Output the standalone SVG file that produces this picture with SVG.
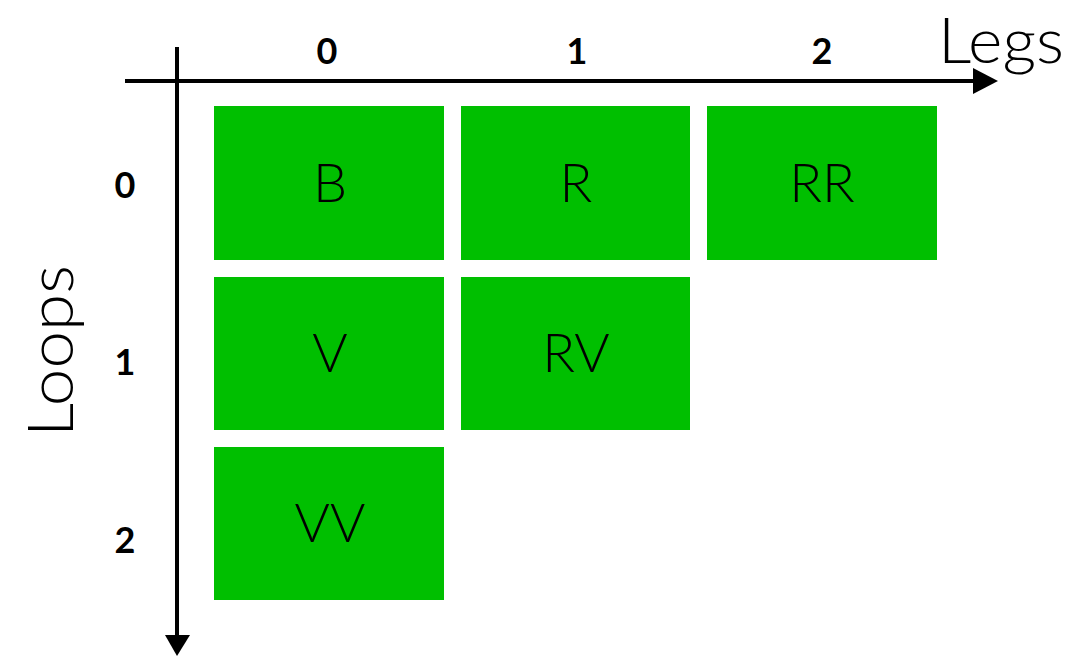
<svg xmlns="http://www.w3.org/2000/svg" width="1073" height="657" viewBox="0 0 1073 657">
<style>
.box{fill:#00bf00}
.lbl{font-family:Lato,"DejaVu Sans",sans-serif;font-weight:300;font-size:54px;fill:#000;text-anchor:middle}
.idx{font-family:Lato,"DejaVu Sans",sans-serif;font-weight:700;font-size:36px;fill:#000;text-anchor:middle}
.ax{font-family:Lato,"DejaVu Sans",sans-serif;font-weight:300;font-size:64px;fill:#000}
.axis{stroke:#000;stroke-width:4;fill:none}
</style>
<rect width="1073" height="657" fill="#fff"/>
<g id="axes">
<line class="axis" x1="125" y1="81" x2="976" y2="81"/>
<polygon points="973,68 998,81 973,94" fill="#000"/>
<line class="axis" x1="177" y1="47" x2="177" y2="638"/>
<polygon points="165,635 177,656 190,635" fill="#000"/>
<text class="ax" x="1001" y="63" text-anchor="middle" textLength="126" lengthAdjust="spacingAndGlyphs">Legs</text>
<text class="ax" transform="translate(73,351) rotate(-90)" text-anchor="middle" textLength="172" lengthAdjust="spacingAndGlyphs">Loops</text>
</g>
<g id="col-labels">
<text class="idx" x="327" y="64">0</text>
<text class="idx" x="577" y="64">1</text>
<text class="idx" x="822" y="64">2</text>
</g>
<g id="row-labels">
<text class="idx" x="125" y="198">0</text>
<text class="idx" x="125" y="375">1</text>
<text class="idx" x="125" y="553">2</text>
</g>
<g id="node-B"><rect class="box" x="214" y="106" width="230" height="154"/><text class="lbl" x="330" y="202">B</text></g>
<g id="node-R"><rect class="box" x="461" y="106" width="229" height="154"/><text class="lbl" x="576" y="202">R</text></g>
<g id="node-RR"><rect class="box" x="707" y="106" width="230" height="154"/><text class="lbl" x="822" y="202">RR</text></g>
<g id="node-V"><rect class="box" x="214" y="277" width="230" height="153"/><text class="lbl" x="330" y="372">V</text></g>
<g id="node-RV"><rect class="box" x="461" y="277" width="229" height="153"/><text class="lbl" x="576" y="372">RV</text></g>
<g id="node-VV"><rect class="box" x="214" y="447" width="230" height="153"/><text class="lbl" x="330" y="542">VV</text></g>
</svg>
